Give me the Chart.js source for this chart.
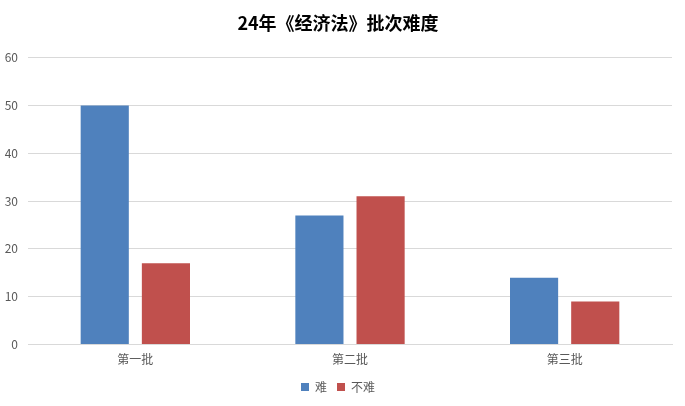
<!DOCTYPE html>
<html>
<head>
<meta charset="utf-8">
<script src="https://cdn.jsdelivr.net/npm/chart.js@4/dist/chart.umd.min.js"></script>
<style>
  html, body { margin: 0; padding: 0; background: #fff; }
  #wrap { width: 685px; height: 406px; position: relative; }
</style>
</head>
<body>
<div id="wrap"><canvas id="batchChart"></canvas></div>
<script>
// chart data
const categories = ['第一批', '第二批', '第三批'];
const hardValues = [50, 27, 14];
const notHardValues = [17, 31, 9];
const seriesNames = ['难', '不难'];
const yTicks = { min: 0, max: 60, step: 10 };

const FONT = '"Noto Sans CJK SC", "Microsoft YaHei", sans-serif';

const ctx = document.getElementById('batchChart').getContext('2d');
const chart = new Chart(ctx, {
    type: 'bar',
    data: {
        labels: categories,
        datasets: [
            { label: seriesNames[0], data: hardValues, backgroundColor: '#4F81BD', borderWidth: 0 },
            { label: seriesNames[1], data: notHardValues, backgroundColor: '#C0504D', borderWidth: 0 }
        ]
    },
    options: {
        responsive: true,
        maintainAspectRatio: false,
        animation: false,
        categoryPercentage: 0.57,
        barPercentage: 0.787,
        layout: { padding: { left: 4, right: 13, top: 8, bottom: 3 } },
        scales: {
            x: {
                grid: { display: false },
                border: { display: true, color: '#d9d9d9' },
                ticks: { color: '#595959', font: { family: FONT, size: 12 }, padding: 0 },
                afterFit: (scale) => { scale.height += 4; }
            },
            y: {
                min: yTicks.min,
                max: yTicks.max,
                grid: { color: '#d9d9d9', drawTicks: false },
                border: { display: false },
                ticks: {
                    stepSize: yTicks.step,
                    color: '#595959',
                    font: { family: FONT, size: 12 },
                    padding: 10
                },
                // keep the axis narrow like the original
                afterFit: (scale) => { scale.width = 24; }
            }
        },
        plugins: {
            title: {
                display: true,
                text: '24年《经济法》批次难度',
                color: '#000',
                font: { family: FONT, size: 18, weight: 'bold' },
                padding: { top: 4, bottom: 24 }
            },
            legend: {
                position: 'bottom',
                labels: {
                    boxWidth: 8,
                    boxHeight: 8,
                    padding: 10,
                    color: '#595959',
                    font: { family: FONT, size: 12 }
                }
            },
            tooltip: { enabled: false }
        }
    }
});
</script>
</body>
</html>
